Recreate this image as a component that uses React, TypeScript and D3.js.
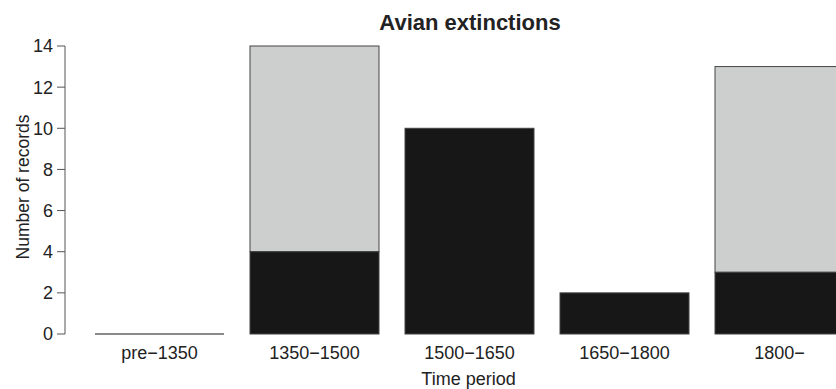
import React from 'react'
import { scaleBand, scaleLinear } from 'd3'

// time periods on the x axis
const periods = ['pre\u22121350', '1350\u22121500', '1500\u22121650', '1650\u22121800', '1800\u2212']
// black segment (bottom) and light grey segment (top) of each stacked bar
const blackCounts = [0, 4, 10, 2, 3]
const greyCounts = [0, 10, 0, 0, 10]
const yTicks = [0, 2, 4, 6, 8, 10, 12, 14]

const W = 836
const H = 389
const font = "'Liberation Sans', Arial, Helvetica, sans-serif"
const textColor = '#222'

const App = () => {
  const x = scaleBand<string>()
    .domain(periods)
    .range([82, 857])
    .paddingInner(26 / 155)
    .paddingOuter(0.5 * 26 / 155)

  const y = scaleLinear().domain([0, 14]).range([334, 46])

  return (
    <svg width={W} height={H} style={{ position: 'absolute', left: 0, top: 0, background: '#fff' }}>
      <text x={470} y={30} textAnchor="middle" fontFamily={font} fontSize={22} fontWeight="bold" fill={textColor}>
        Avian extinctions
      </text>

      {/* y axis */}
      <g>
        <line x1={65} x2={65} y1={y(0)} y2={y(14)} stroke="#555" strokeWidth={1} />
        {yTicks.map(t => (
          <g key={t}>
            <line x1={57} x2={65} y1={y(t)} y2={y(t)} stroke="#555" strokeWidth={1} />
            <text x={53} y={y(t)} dy="0.36em" textAnchor="end" fontFamily={font} fontSize={18} fill={textColor}>
              {t}
            </text>
          </g>
        ))}
        <text
          transform={`translate(29, ${y(7) - 3}) rotate(-90)`}
          textAnchor="middle"
          fontFamily={font}
          fontSize={17.5}
          fill={textColor}
        >
          Number of records
        </text>
      </g>

      {/* bars */}
      {periods.map((p, i) => {
        const x0 = x(p)!
        const bw = x.bandwidth()
        const b = blackCounts[i]
        const g = greyCounts[i]
        return (
          <g key={p}>
            {g > 0 && (
              <rect x={x0} y={y(b + g)} width={bw} height={y(b) - y(b + g)} fill="#cdcfce" stroke="#444" strokeWidth={1} />
            )}
            {b > 0 ? (
              <rect x={x0} y={y(b)} width={bw} height={y(0) - y(b)} fill="#171717" stroke="#444" strokeWidth={1} />
            ) : (
              <line x1={x0} x2={x0 + bw} y1={y(0)} y2={y(0)} stroke="#171717" strokeWidth={1.2} />
            )}
            <text x={x0 + bw / 2} y={359} textAnchor="middle" fontFamily={font} fontSize={18} fill={textColor}>
              {p}
            </text>
          </g>
        )
      })}

      <text x={468.5} y={385} textAnchor="middle" fontFamily={font} fontSize={18} fill={textColor}>
        Time period
      </text>
    </svg>
  )
}

export default App
